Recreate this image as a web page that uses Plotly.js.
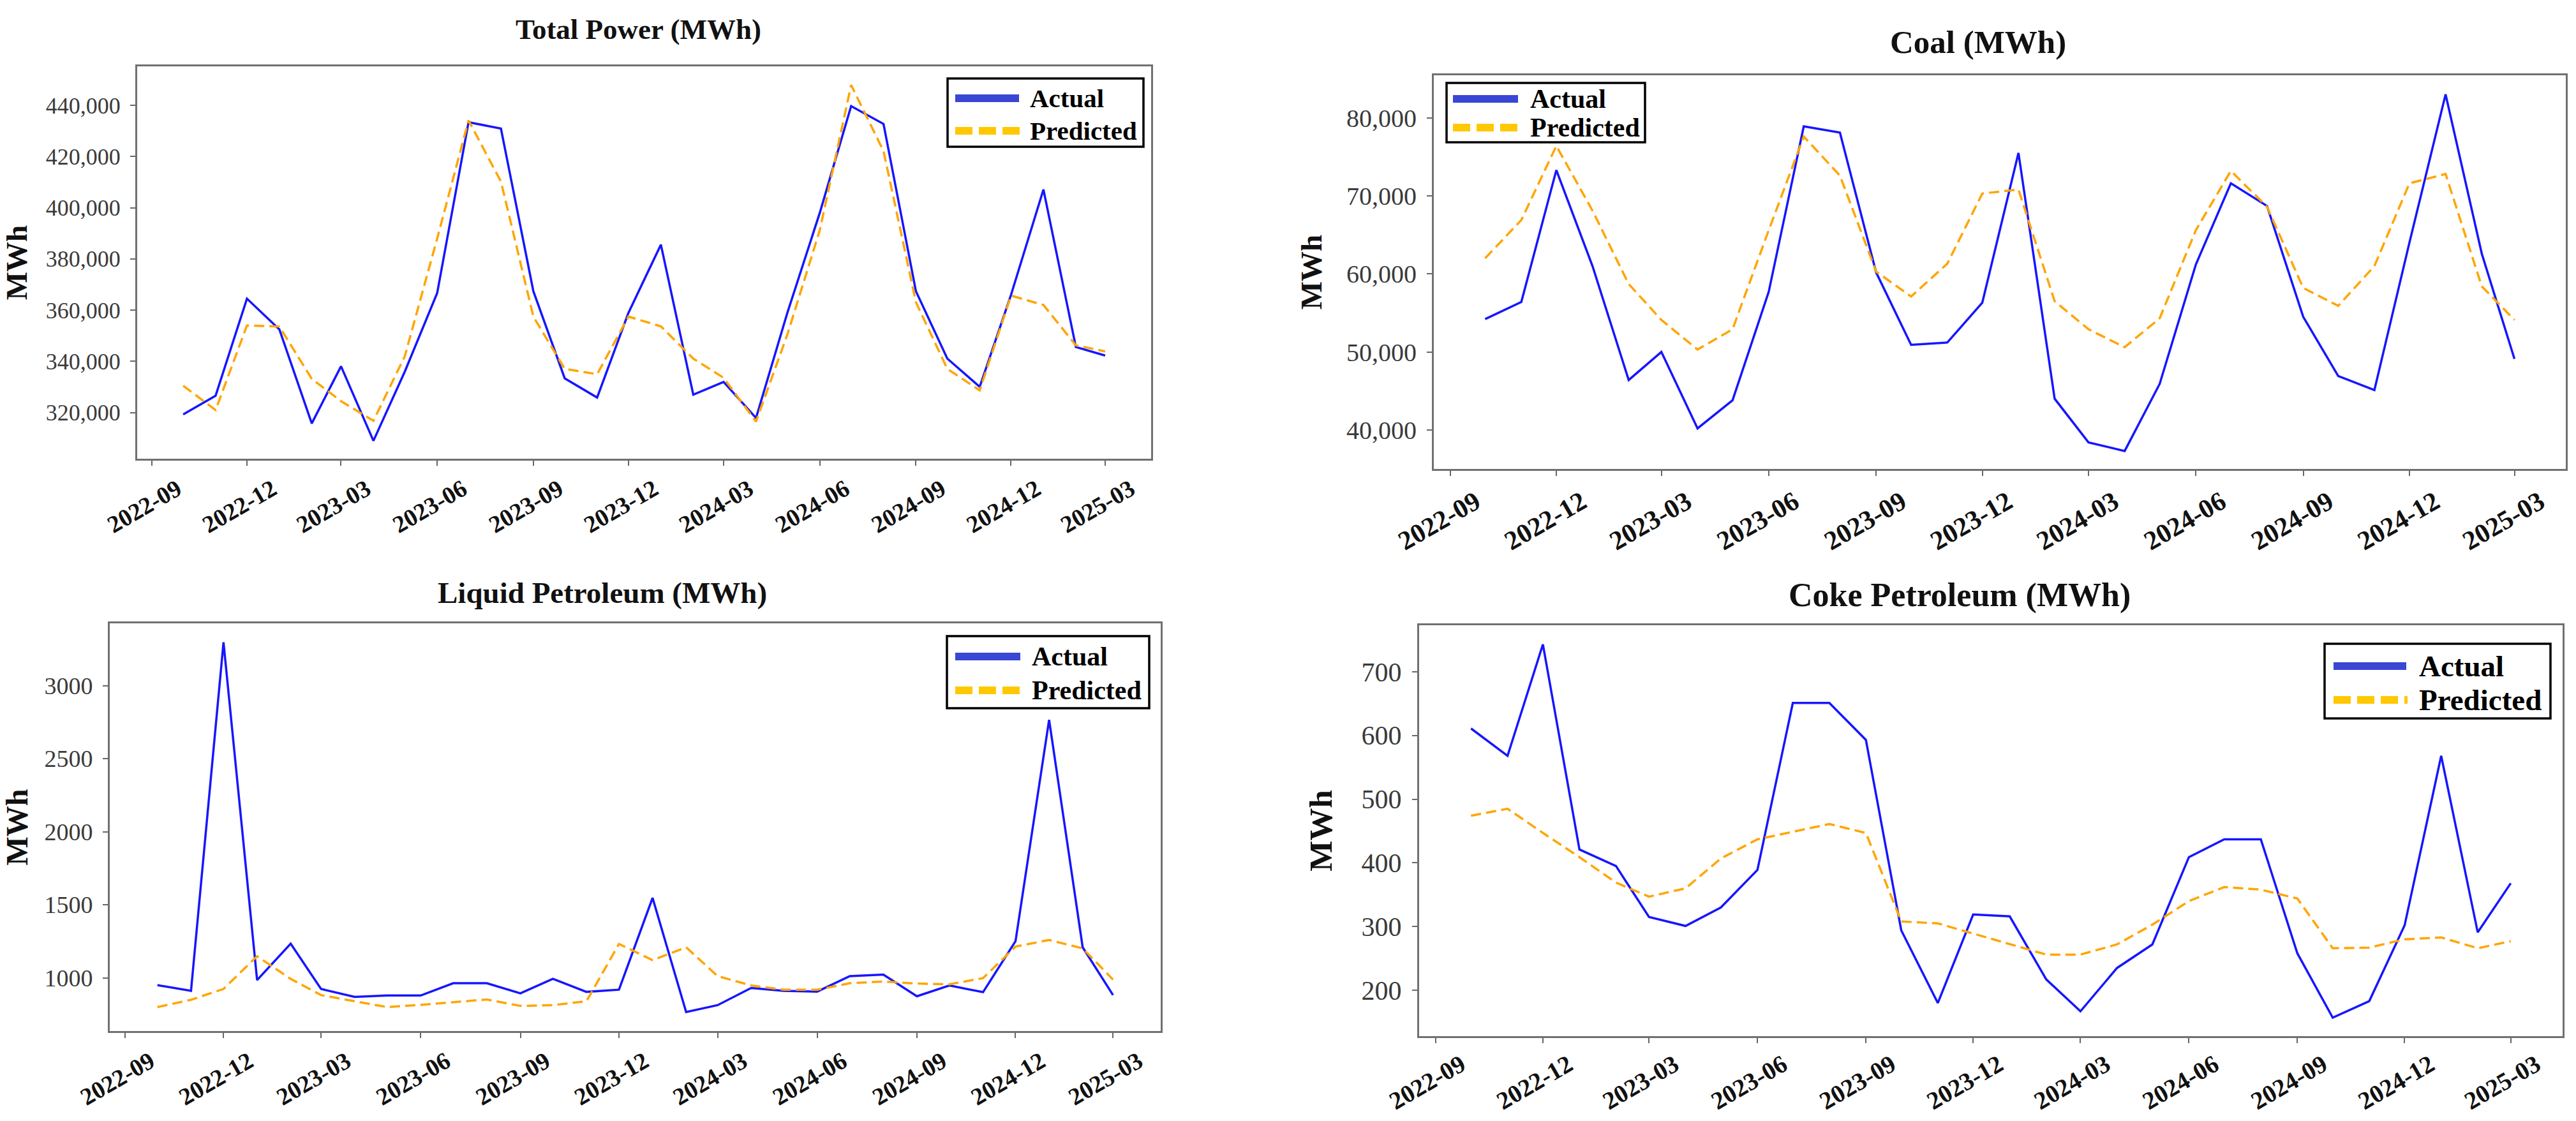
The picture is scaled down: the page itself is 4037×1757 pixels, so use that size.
<!DOCTYPE html>
<html>
<head>
<meta charset="utf-8">
<script src="https://cdn.plot.ly/plotly-3.0.1.min.js"></script>
<style>html,body{margin:0;padding:0;background:#fff;}#chart{width:4037px;height:1757px;}</style>
</head>
<body>
<div id="chart"></div>
<script>
// ---------------- DATA ----------------
const months = ['2022-10-01','2022-11-01','2022-12-01','2023-01-01','2023-02-01','2023-03-01','2023-04-01','2023-05-01','2023-06-01','2023-07-01','2023-08-01','2023-09-01','2023-10-01','2023-11-01','2023-12-01','2024-01-01','2024-02-01','2024-03-01','2024-04-01','2024-05-01','2024-06-01','2024-07-01','2024-08-01','2024-09-01','2024-10-01','2024-11-01','2024-12-01','2025-01-01','2025-02-01','2025-03-01'];

const totalActual    = [319300,326600,364500,352500,315800,338100,309000,336000,366700,433400,430900,367400,333400,325900,359000,385600,327000,332000,317900,359000,398000,439700,432700,367400,341100,330100,366000,407100,345600,342300];
const totalPredicted = [330500,321000,354000,353600,333200,324500,316800,342000,388000,434100,410200,357500,337100,335000,357500,353700,341100,333600,316500,350500,391200,447900,422100,363100,337100,328700,365700,362000,346300,343900];

const coalActual    = [54200,56400,73300,61000,46400,50000,40200,43800,57700,78900,78100,60200,50900,51200,56300,75500,44000,38400,37300,45900,61200,71600,68700,54500,46900,45100,64000,83000,62600,49100];
const coalPredicted = [62000,66900,76400,68100,58700,54100,50300,52900,65600,77600,72600,60300,57100,61300,70300,70800,56500,52900,50600,54300,65600,73200,68600,58200,55900,61000,71600,72800,58400,54100];

const liquidActual    = [950,911,3296,985,1234,924,870,879,879,963,963,894,993,904,919,1547,766,813,931,911,906,1012,1022,874,948,902,1251,2766,1209,882];
const liquidPredicted = [800,850,924,1148,993,882,840,800,815,833,852,808,813,840,1232,1121,1209,1012,948,919,919,963,975,961,956,998,1214,1259,1202,988];

const cokeActual    = [611,568,743,421,395,315,301,330,389,651,651,593,294,180,319,316,217,167,235,272,409,437,437,258,157,183,302,568,291,368];
const cokePredicted = [474,485,447,409,369,347,360,407,437,449,461,447,308,305,289,272,256,256,272,303,340,362,358,344,266,267,280,283,266,277];

const seriesNames = ['Actual','Predicted'];
const panelTitles = ['Total Power (MWh)','Coal (MWh)','Liquid Petroleum (MWh)','Coke Petroleum (MWh)'];
const yAxisTitle = 'MWh';

// ---------------- LAYOUT HELPERS ----------------
const W = 4037, H = 1757;
const fx = v => v / W;
const fy = v => 1 - v / H;

const SERIF = 'Liberation Serif, Times New Roman, serif';
const BLUE = '#1616ff', ORANGE = '#ffa500';
const LEG_BLUE = '#3a46d4', LEG_GOLD = '#ffc800';

const panels = [
  {act: totalActual, pred: totalPredicted, title: panelTitles[0],
   dom: [215, 104, 1804, 719], yr: [302000, 455200], dtick: 20000, fmt: ',d',
   tf: 36, xf: 38, xs: 0, ttl: {x: 1000, y: 46, s: 45}, yt: {s: 47, standoff: 22},
   leg: {box: [1485, 123, 1792, 230], lx: [1497, 1597], tx: 1612, ya: 154, yp: 205, s: 41}},
  {act: coalActual, pred: coalPredicted, title: panelTitles[1],
   dom: [2247, 118, 4021, 735], yr: [35000, 85450], dtick: 10000, fmt: ',d',
   tf: 40, xf: 42, xs: 0, ttl: {x: 3100, y: 66, s: 51}, yt: {s: 47, standoff: 24},
   leg: {box: [2267, 130, 2578, 223], lx: [2277, 2379], tx: 2396, ya: 155, yp: 200, s: 42}},
  {act: liquidActual, pred: liquidPredicted, title: panelTitles[2],
   dom: [172, 977, 1819, 1616], yr: [636, 3426], dtick: 500, fmt: 'd',
   tf: 38, xf: 38, xs: 0, ttl: {x: 944, y: 929, s: 47}, yt: {s: 48, standoff: 36},
   leg: {box: [1484, 997, 1801, 1110], lx: [1497, 1599], tx: 1615, ya: 1029, yp: 1082, s: 42}},
  {act: cokeActual, pred: cokePredicted, title: panelTitles[3],
   dom: [2224, 980, 4016, 1624], yr: [128, 773], dtick: 100, fmt: 'd',
   tf: 42, xf: 39, xs: -4, ttl: {x: 3071, y: 933, s: 52}, yt: {s: 51, standoff: 30},
   leg: {box: [3643, 1009, 3997, 1126], lx: [3657, 3771], tx: 3789, ya: 1044, yp: 1097, s: 47}}
];

const data = [];
const layout = {
  width: W, height: H,
  margin: {l: 0, r: 0, t: 0, b: 0},
  paper_bgcolor: '#ffffff', plot_bgcolor: '#ffffff',
  showlegend: false,
  font: {family: SERIF, color: '#000'},
  annotations: [], shapes: []
};

panels.forEach((p, i) => {
  const n = i + 1;
  const xa = 'x' + (n === 1 ? '' : n), ya = 'y' + (n === 1 ? '' : n);
  const xk = 'xaxis' + (n === 1 ? '' : n), yk = 'yaxis' + (n === 1 ? '' : n);

  data.push({x: months, y: p.act, type: 'scatter', mode: 'lines', name: seriesNames[0],
             xaxis: xa, yaxis: ya, line: {color: BLUE, width: 3.5}});
  data.push({x: months, y: p.pred, type: 'scatter', mode: 'lines', name: seriesNames[1],
             xaxis: xa, yaxis: ya, line: {color: ORANGE, width: 3.5, dash: '16px,8px'}});

  layout[xk] = {
    domain: [fx(p.dom[0]), fx(p.dom[2])], anchor: ya,
    type: 'date', range: ['2022-08-18', '2025-04-14'],
    tick0: '2022-09-01', dtick: 'M3', tickformat: '%Y-%m', tickangle: -30,
    ticks: 'outside', ticklen: 8, tickwidth: 2, tickcolor: '#666',
    ticklabelstandoff: p.xs, ticklabelshift: 40,
    showline: true, linecolor: '#707070', linewidth: 3, mirror: true,
    showgrid: false, zeroline: false,
    tickfont: {family: SERIF, size: p.xf, color: '#111', weight: 'bold'}
  };
  layout[yk] = {
    domain: [fy(p.dom[3]), fy(p.dom[1])], anchor: xa,
    range: p.yr, dtick: p.dtick, tick0: 0, tickformat: p.fmt,
    ticks: 'outside', ticklen: 8, tickwidth: 2, tickcolor: '#666',
    ticklabelstandoff: 8,
    showline: true, linecolor: '#707070', linewidth: 3, mirror: true,
    showgrid: false, zeroline: false,
    tickfont: {family: SERIF, size: p.tf, color: '#3a3a3a'},
    title: {text: yAxisTitle, standoff: p.yt.standoff,
            font: {family: SERIF, size: p.yt.s, color: '#111', weight: 'bold'}}
  };

  // subplot title
  layout.annotations.push({text: '<b>' + p.title + '</b>', xref: 'paper', yref: 'paper',
    x: fx(p.ttl.x), y: fy(p.ttl.y), xanchor: 'center', yanchor: 'middle', showarrow: false,
    font: {family: SERIF, size: p.ttl.s, color: '#111'}});

  // legend box (drawn like the reference: long thick samples)
  const L = p.leg;
  layout.shapes.push({type: 'rect', xref: 'paper', yref: 'paper',
    x0: fx(L.box[0]), x1: fx(L.box[2]), y0: fy(L.box[3]), y1: fy(L.box[1]),
    line: {color: '#000', width: 3.5}, fillcolor: '#fff', layer: 'above'});
  layout.shapes.push({type: 'line', xref: 'paper', yref: 'paper',
    x0: fx(L.lx[0]), x1: fx(L.lx[1]), y0: fy(L.ya), y1: fy(L.ya),
    line: {color: LEG_BLUE, width: 12}, layer: 'above'});
  layout.shapes.push({type: 'line', xref: 'paper', yref: 'paper',
    x0: fx(L.lx[0]), x1: fx(L.lx[1] + 2), y0: fy(L.yp), y1: fy(L.yp),
    line: {color: LEG_GOLD, width: 12, dash: '27px,10px'}, layer: 'above'});
  layout.annotations.push({text: '<b>' + seriesNames[0] + '</b>', xref: 'paper', yref: 'paper',
    x: fx(L.tx), y: fy(L.ya), xanchor: 'left', yanchor: 'middle', showarrow: false,
    font: {family: SERIF, size: L.s, color: '#000'}});
  layout.annotations.push({text: '<b>' + seriesNames[1] + '</b>', xref: 'paper', yref: 'paper',
    x: fx(L.tx), y: fy(L.yp), xanchor: 'left', yanchor: 'middle', showarrow: false,
    font: {family: SERIF, size: L.s, color: '#000'}});
});

Plotly.newPlot('chart', data, layout, {staticPlot: true, displayModeBar: false});
</script>
</body>
</html>
